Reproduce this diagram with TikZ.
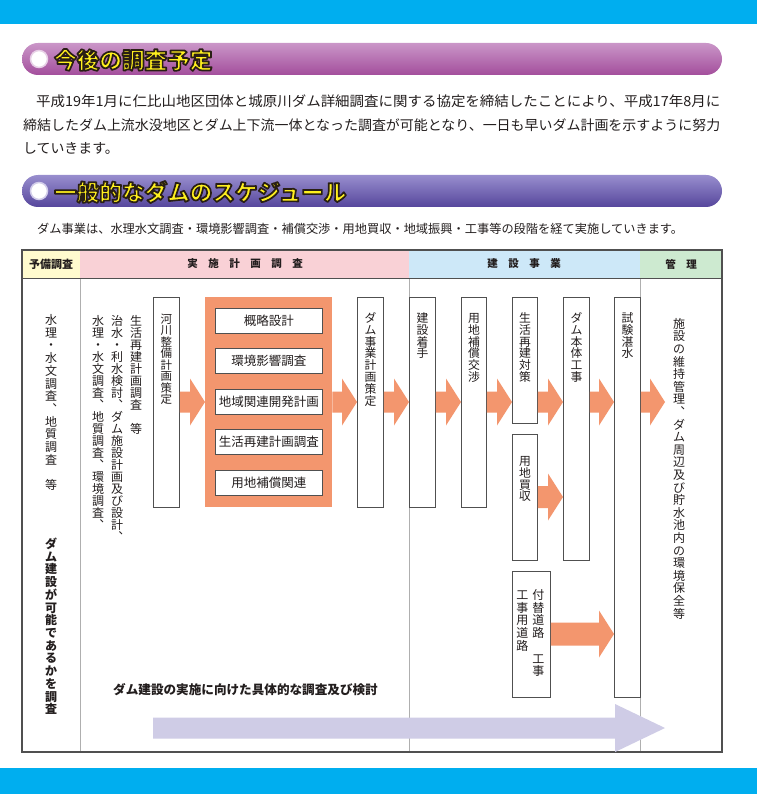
\documentclass[tikz,border=0pt]{standalone}
\usepackage{fontspec}
\setmainfont{Noto Sans CJK JP}
\usepackage{graphicx}
\usetikzlibrary{calc}
\definecolor{bandblue}{RGB}{0,174,239}
\definecolor{pillAtop}{RGB}{202,150,200}
\definecolor{pillAbot}{RGB}{163,78,156}
\definecolor{pillBtop}{RGB}{152,142,206}
\definecolor{pillBbot}{RGB}{86,70,156}
\definecolor{hyel}{RGB}{255,240,30}
\definecolor{cYel}{RGB}{255,251,206}
\definecolor{cPink}{RGB}{249,209,214}
\definecolor{cBlue}{RGB}{205,232,248}
\definecolor{cGreen}{RGB}{205,234,208}
\definecolor{oran}{RGB}{243,150,110}
\definecolor{lav}{RGB}{207,204,230}
\definecolor{bord}{RGB}{80,80,80}
\definecolor{gline}{RGB}{175,175,175}
\definecolor{txt}{RGB}{35,30,30}
% outlined title text: yellow fill with dark stroke (PDF text render mode 2)
\newcommand\outlined[1]{\special{pdf:literal direct 2 Tr 1.7 w 1 j 0.16 0.12 0.08 RG}#1\special{pdf:literal direct 0 Tr 0.4 w 0 j}}
\makeatletter
\def\vt@end{\vt@end}
\newcommand\vt[2][1]{\vbox{\offinterlineskip\def\vt@s{#1}\vt@loop#2\vt@end}}
\def\vt@loop#1{\ifx#1\vt@end\else\vt@char{#1}\expandafter\vt@loop\fi}
\def\vt@cell#1{\hbox to 1em{\vrule height\vt@s em depth 0pt width 0pt\hss\raise0.12em\hbox{#1}\hss}}
\def\vt@char#1{%
  \if#1、\vt@cell{︑}\else\if#1。\vt@cell{︒}\else\vt@cell{#1}\fi\fi}
\makeatother
% block arrow: color, from, to, y, shaft half, head half, head length
\newcommand\blockarrow[7]{%
  \fill[#1] ($(#2 |- 0,#4)+(0,-#5)$) -- ($(#3 |- 0,#4)+(-#7,-#5)$) -- ($(#3 |- 0,#4)+(-#7,-#6)$)
  -- (#3 |- 0,#4) -- ($(#3 |- 0,#4)+(-#7,#6)$) -- ($(#3 |- 0,#4)+(-#7,#5)$) -- ($(#2 |- 0,#4)+(0,#5)$) -- cycle;}
\begin{document}
\begin{tikzpicture}[x=1pt,y=-1pt,
  vbx/.style={draw=bord, line width=0.9pt, fill=white, inner sep=0pt, anchor=north west},
  vtx/.style={anchor=north, inner sep=0pt, text=txt, font=\fontsize{11.8}{12}\selectfont},
  ibx/.style={draw=bord, line width=0.9pt, fill=white, minimum width=107pt, minimum height=25pt, inner sep=0pt, anchor=north west, font=\fontsize{12.5}{13}\selectfont, text=txt},
  hdr/.style={font=\bfseries\fontsize{10.5}{11}\selectfont, text=txt, inner sep=0pt},
  ttl/.style={anchor=west, inner sep=0pt, text=hyel, font=\bfseries\fontsize{22.6}{23}\selectfont},
  para/.style={anchor=west, inner sep=0pt, text=txt, font=\fontsize{13.9}{14}\selectfont}]
\useasboundingbox (0,0) rectangle (757,794);
\fill[white] (0,0) rectangle (757,794);
\fill[bandblue] (0,0) rectangle (757,24);
\fill[bandblue] (0,768) rectangle (757,794);
% title 1
\shade[top color=pillAtop, bottom color=pillAbot, rounded corners=16pt] (22,43) rectangle (722,75);
\node[circle, fill=white, draw=pillAtop!45, line width=1.5pt, minimum size=17pt, inner sep=0pt] (c1) at (39,59) {};
\node[ttl] (t1) at (54,60) {\outlined{今後の調査予定}};
% paragraph
\node[para] (p1) at (36,101) {\resizebox{684pt}{\height}{平成19年1月に仁比山地区団体と城原川ダム詳細調査に関する協定を締結したことにより、平成17年8月に}};
\node[para] (p2) at (23,125) {\resizebox{697pt}{\height}{締結したダム上流水没地区とダム上下流一体となった調査が可能となり、一日も早いダム計画を示すように努力}};
\node[para] (p3) at (23,148) {していきます。};
% title 2
\shade[top color=pillBtop, bottom color=pillBbot, rounded corners=16pt] (22,175) rectangle (722,207);
\node[circle, fill=white, draw=pillBtop!45, line width=1.5pt, minimum size=17pt, inner sep=0pt] (c2) at (39,191) {};
\node[ttl] (t2) at (54,192) {\outlined{一般的なダムのスケジュール}};
\node[para, font=\fontsize{12.2}{13}\selectfont] (sub) at (37,229) {\resizebox{646pt}{\height}{ダム事業は、水理水文調査・環境影響調査・補償交渉・用地買収・地域振興・工事等の段階を経て実施していきます。}};
% table
\fill[cYel] (22,250) rectangle (80,278);
\fill[cPink] (80,250) rectangle (409,278);
\fill[cBlue] (409,250) rectangle (640,278);
\fill[cGreen] (640,250) rectangle (722,278);
\draw[gline, line width=0.7pt] (80,278) -- (80,752) (409,278) -- (409,752) (640,278) -- (640,752);
\draw[bord, line width=1pt] (22,278) -- (722,278);
\draw[bord, line width=1.2pt] (22,250) rectangle (722,752);
\node[hdr, font=\bfseries\fontsize{11}{11}\selectfont] (hA) at (51,264) {予備調査};
\node[hdr] (hB) at (245,264) {実　施　計　画　調　査};
\node[hdr] (hC) at (524,264) {建　設　事　業};
\node[hdr] (hD) at (681,264) {管　理};
% left column texts
\node[vtx, font=\fontsize{12}{12}\selectfont] (l1) at (51,313) {\vt[1.06]{水理・水文調査、地質調査　等}};
\node[vtx, font=\bfseries\fontsize{12}{12}\selectfont] (l2) at (51,537) {\vt[1.06]{ダム建設が可能であるかを調査}};
% second column texts
\node[vtx, font=\fontsize{12}{12}\selectfont] (m1) at (136,315) {\vt{生活再建計画調査　等}};
\node[vtx, font=\fontsize{12}{12}\selectfont] (m2) at (117,315) {\vt{治水・利水検討、ダム施設計画及び設計、}};
\node[vtx, font=\fontsize{12}{12}\selectfont] (m3) at (98,315) {\vt{水理・水文調査、地質調査、環境調査、}};
% boxes
\node[vbx, minimum width=26pt, minimum height=210pt] (kasen) at (153,297) {};
\node[vtx, font=\fontsize{11.5}{12}\selectfont] at ($(kasen.north)+(0,16)$) {\vt{河川整備計画策定}};
\node[fill=oran, minimum width=127pt, minimum height=210pt, inner sep=0pt, anchor=north west] (ob) at (205,297) {};
\node[ibx] (g1) at (215,308) {概略設計};
\node[ibx] (g2) at (215,348) {環境影響調査};
\node[ibx] (g3) at (215,389) {地域関連開発計画};
\node[ibx] (g4) at (215,429) {生活再建計画調査};
\node[ibx] (g5) at (215,470) {用地補償関連};
\node[vbx, minimum width=26pt, minimum height=210pt] (jigyo) at (357,297) {};
\node[vtx] at ($(jigyo.north)+(0,15)$) {\vt{ダム事業計画策定}};
\node[vbx, minimum width=26pt, minimum height=210pt] (chaku) at (409,297) {};
\node[vtx] at ($(chaku.north)+(0,15)$) {\vt{建設着手}};
\node[vbx, minimum width=25pt, minimum height=210pt] (hosho) at (461,297) {};
\node[vtx] at ($(hosho.north)+(0,15)$) {\vt{用地補償交渉}};
\node[vbx, minimum width=25pt, minimum height=126pt] (seikatsu) at (512,297) {};
\node[vtx] at ($(seikatsu.north)+(0,15)$) {\vt{生活再建対策}};
\node[vbx, minimum width=25pt, minimum height=126pt] (yochi) at (512,434) {};
\node[vtx] at ($(yochi.north)+(0,21)$) {\vt{用地買収}};
\node[vbx, minimum width=26pt, minimum height=263pt] (hontai) at (563,297) {};
\node[vtx] at ($(hontai.north)+(0,15)$) {\vt{ダム本体工事}};
\node[vbx, minimum width=26pt, minimum height=400pt] (shiken) at (614,297) {};
\node[vtx] at ($(shiken.north)+(0,15)$) {\vt{試験湛水}};
\node[vbx, minimum width=38pt, minimum height=126pt] (tsuke) at (512,571) {};
\node[vtx, font=\fontsize{12}{12}\selectfont] at ($(tsuke.north)+(7,17)$) {\vt[1.06]{付替道路　工事}};
\node[vtx, font=\fontsize{12}{12}\selectfont] at ($(tsuke.north)+(-9,17)$) {\vt[1.06]{工事用道路}};
% right column text
\node[vtx, font=\fontsize{12}{12}\selectfont] (r1) at (679,317) {\vt[1.05]{施設の維持管理、ダム周辺及び貯水池内の環境保全等}};
% arrows
\coordinate (kanri) at (665,402);
\blockarrow{oran}{kasen.east}{ob.west}{402}{10.5}{23.5}{15}
\blockarrow{oran}{ob.east}{jigyo.west}{402}{10.5}{23.5}{15}
\blockarrow{oran}{jigyo.east}{chaku.west}{402}{10.5}{23.5}{15}
\blockarrow{oran}{chaku.east}{hosho.west}{402}{10.5}{23.5}{15}
\blockarrow{oran}{hosho.east}{seikatsu.west}{402}{10.5}{23.5}{15}
\blockarrow{oran}{seikatsu.east}{hontai.west}{402}{10.5}{23.5}{15}
\blockarrow{oran}{hontai.east}{shiken.west}{402}{10.5}{23.5}{15}
\blockarrow{oran}{shiken.east}{kanri}{402}{10.5}{23.5}{15}
\blockarrow{oran}{yochi.east}{hontai.west}{497}{11}{23.5}{15}
\blockarrow{oran}{tsuke.east}{shiken.west}{634}{11.5}{23.5}{15}
% bottom lavender arrow
\coordinate (ps) at (153,728);
\coordinate (pe) at (665,728);
\blockarrow{lav}{ps}{pe}{728}{10.5}{24}{50}
\node[anchor=west, inner sep=0pt, text=txt, font=\bfseries\fontsize{12.6}{13}\selectfont] (bt) at (113,690) {ダム建設の実施に向けた具体的な調査及び検討};
\end{tikzpicture}
\end{document}
